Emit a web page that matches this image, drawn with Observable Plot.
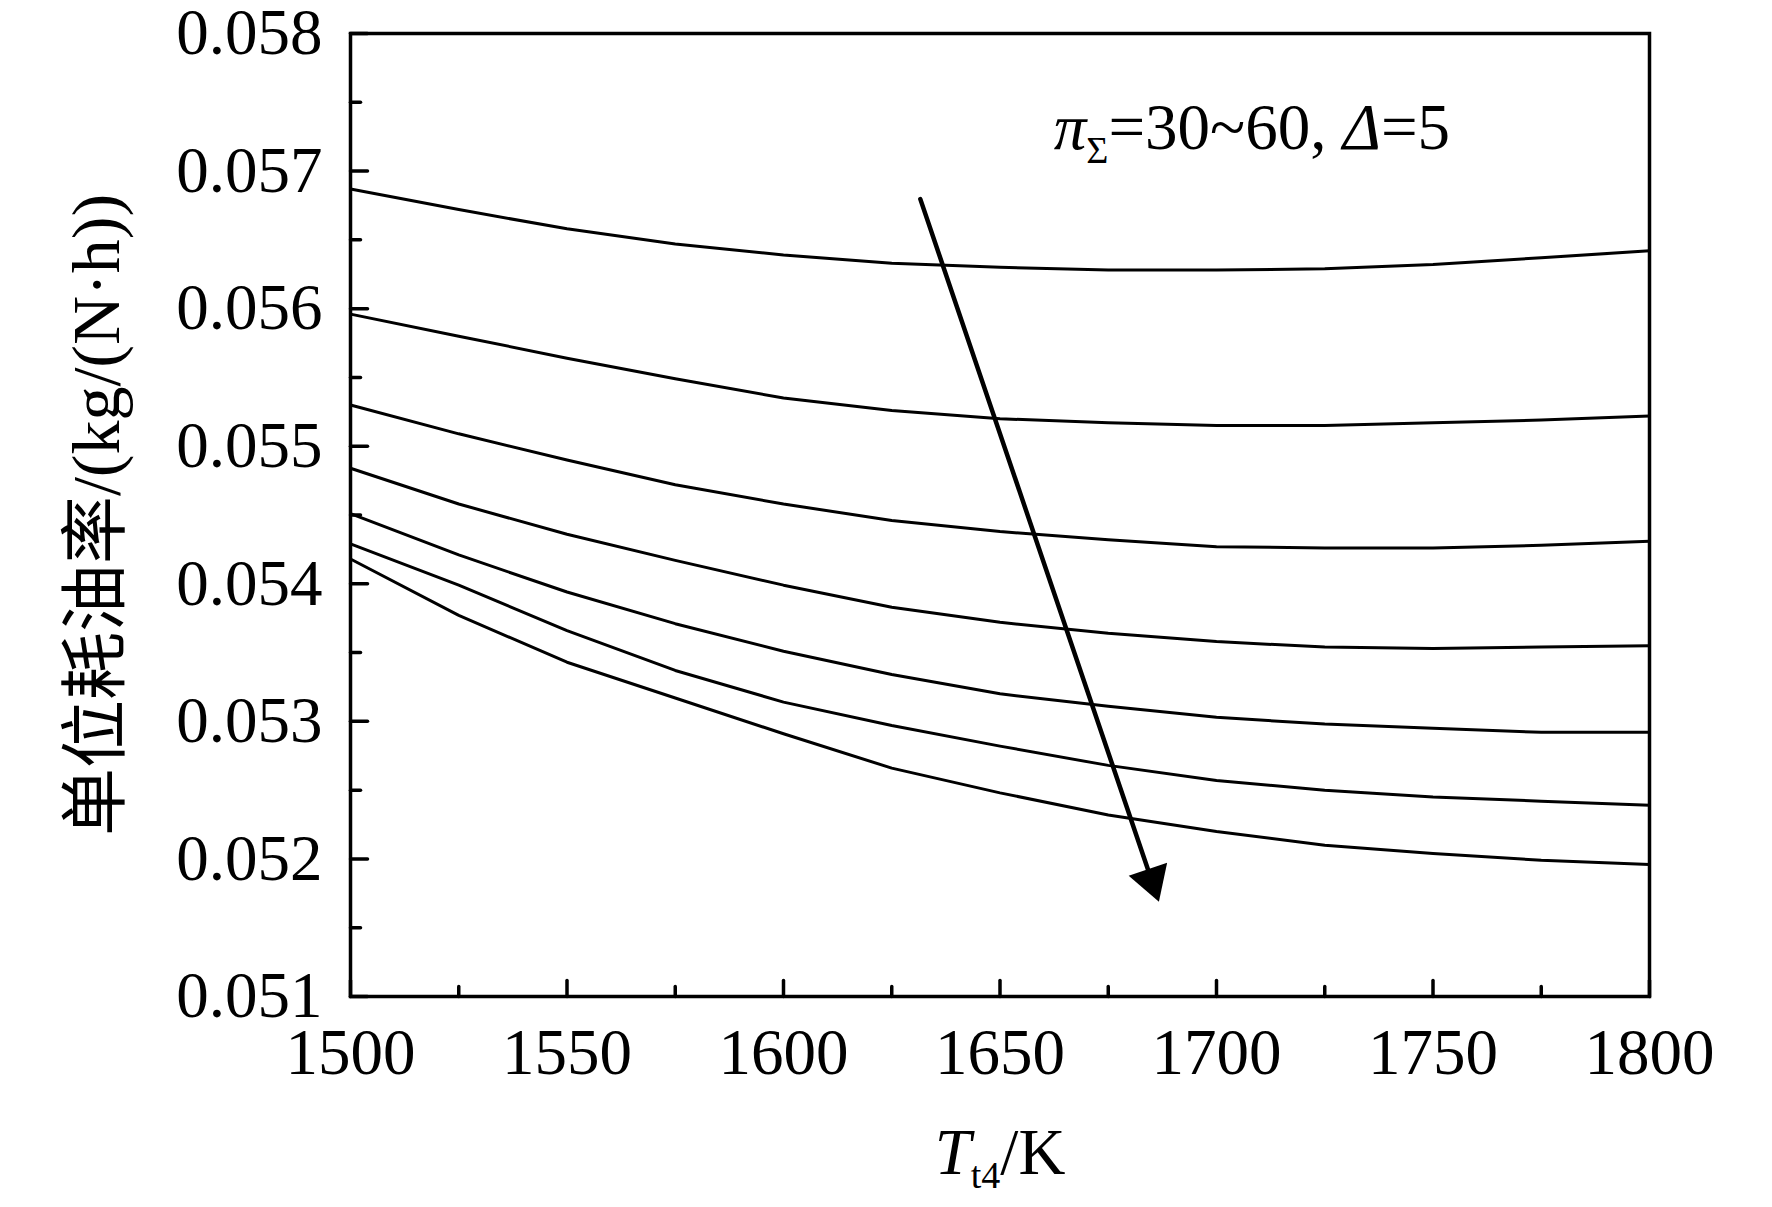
<!DOCTYPE html>
<html>
<head>
<meta charset="utf-8">
<script src="https://cdn.jsdelivr.net/npm/d3@7"></script>
<script src="https://cdn.jsdelivr.net/npm/@observablehq/plot@0.6"></script>
<style>
  html, body { margin: 0; padding: 0; background: #fff; }
  #chart { width: 1772px; height: 1207px; }
</style>
</head>
<body>
<div id="chart"></div>
<script>
// ---------- data ----------
const Tt4 = [1500, 1525, 1550, 1575, 1600, 1625, 1650, 1675, 1700, 1725, 1750, 1775, 1800];
const piSigma = [30, 35, 40, 45, 50, 55, 60];
const sfc30 = [0.05687, 0.05672, 0.05658, 0.05647, 0.05639, 0.05633, 0.05630, 0.05628, 0.05628, 0.05629, 0.05632, 0.05637, 0.05642];
const sfc35 = [0.05596, 0.05580, 0.05564, 0.05549, 0.05535, 0.05526, 0.05520, 0.05517, 0.05515, 0.05515, 0.05517, 0.05519, 0.05522];
const sfc40 = [0.05530, 0.05509, 0.05490, 0.05472, 0.05458, 0.05446, 0.05438, 0.05432, 0.05427, 0.05426, 0.05426, 0.05428, 0.05431];
const sfc45 = [0.05484, 0.05458, 0.05436, 0.05417, 0.05399, 0.05383, 0.05372, 0.05364, 0.05358, 0.05354, 0.05353, 0.05354, 0.05355];
const sfc50 = [0.05451, 0.05421, 0.05394, 0.05371, 0.05351, 0.05334, 0.05320, 0.05311, 0.05303, 0.05298, 0.05295, 0.05292, 0.05292];
const sfc55 = [0.05429, 0.05399, 0.05366, 0.05337, 0.05314, 0.05297, 0.05282, 0.05268, 0.05257, 0.05250, 0.05245, 0.05242, 0.05239];
const sfc60 = [0.05418, 0.05377, 0.05343, 0.05317, 0.05291, 0.05266, 0.05248, 0.05232, 0.05220, 0.05210, 0.05204, 0.05199, 0.05196];

const xTicks = [1500, 1550, 1600, 1650, 1700, 1750, 1800];
const xMinorTicks = [1525, 1575, 1625, 1675, 1725, 1775];
const yTicks = [0.051, 0.052, 0.053, 0.054, 0.055, 0.056, 0.057, 0.058];
const yMinorTicks = [0.0515, 0.0525, 0.0535, 0.0545, 0.0555, 0.0565, 0.0575];

const xLabel = "Tt4/K";
const yLabel = "单位耗油率/(kg/(N·h))";
const annotationText = "πΣ=30~60, Δ=5";
const annotationPos = [{T: 1662.4, sfc: 0.057157}];
const arrowData = [{T1: 1631.6, v1: 0.056796, T2: 1686.7, v2: 0.051689}];

// ---------- layout ----------
const W = 1772, H = 1207;
const mL = 350, mR = 123, mT = 33, mB = 211;
const xDomain = [1500, 1800], yDomain = [0.051, 0.058];

const series = [sfc30, sfc35, sfc40, sfc45, sfc50, sfc55, sfc60];
const rows = series.flatMap((s, i) => s.map((v, j) => ({pi: piSigma[i], T: Tt4[j], sfc: v})));

// arrow head angle in screen space
const kx = (W - mL - mR) / (xDomain[1] - xDomain[0]);
const ky = (H - mT - mB) / (yDomain[1] - yDomain[0]);
const a = arrowData[0];
const headAngle = -Math.atan2((a.T2 - a.T1) * kx, (a.v1 - a.v2) * ky) * 180 / Math.PI;

const headSymbol = {draw(ctx) { ctx.moveTo(0, 0); ctx.lineTo(-20.3, -34.2); ctx.lineTo(20.3, -34.2); ctx.closePath(); }};
const tickRight = {draw(ctx, l) { ctx.moveTo(0, 0); ctx.lineTo(l, 0); }};
const tickUp = {draw(ctx, l) { ctx.moveTo(0, 0); ctx.lineTo(0, -l); }};

const plot = Plot.plot({
  width: W, height: H,
  marginLeft: mL, marginRight: mR, marginTop: mT, marginBottom: mB,
  style: {fontFamily: "'Liberation Serif', 'Times New Roman', 'Noto Sans CJK SC', serif", background: "#fff", color: "#000", overflow: "visible"},
  x: {domain: xDomain},
  y: {domain: yDomain},
  marks: [
    Plot.line(rows, {x: "T", y: "sfc", z: "pi", stroke: "#000", strokeWidth: 3}),
    Plot.arrow(arrowData, {x1: "T1", y1: "v1", x2: "T2", y2: "v2", stroke: "#000", strokeWidth: 4.5, headLength: 0, insetEnd: 24}),
    Plot.dot(arrowData, {x: "T2", y: "v2", symbol: headSymbol, rotate: headAngle, fill: "#000", stroke: "none", r: 1}),
    Plot.frame({stroke: "#000", strokeWidth: 3.5}),
    Plot.vector(yTicks, {y: d => d, frameAnchor: "left", length: 17, anchor: "start", shape: tickRight, stroke: "#000", strokeWidth: 3.5}),
    Plot.vector(yMinorTicks, {y: d => d, frameAnchor: "left", length: 10, anchor: "start", shape: tickRight, stroke: "#000", strokeWidth: 3.5}),
    Plot.vector(xTicks, {x: d => d, frameAnchor: "bottom", length: 16, anchor: "start", shape: tickUp, stroke: "#000", strokeWidth: 3.5}),
    Plot.vector(xMinorTicks, {x: d => d, frameAnchor: "bottom", length: 10, anchor: "start", shape: tickUp, stroke: "#000", strokeWidth: 3.5}),
    Plot.axisX({ticks: xTicks, tickFormat: d3.format("d"), tickSize: 0, tickPadding: 31, fontSize: 65, label: null}),
    Plot.axisY({ticks: yTicks, tickFormat: d3.format(".3f"), tickSize: 0, tickPadding: 28, fontSize: 65, label: null}),
    Plot.text([xLabel], {text: d => d, frameAnchor: "bottom", dy: 177, lineAnchor: "bottom", textAnchor: "middle", fontSize: 65}),
    Plot.text([yLabel], {text: d => d, frameAnchor: "left", dx: -232, rotate: -90, lineAnchor: "bottom", textAnchor: "middle", fontSize: 68}),
    Plot.text(annotationPos, {x: "T", y: "sfc", text: () => annotationText, textAnchor: "start", lineAnchor: "bottom", fontSize: 65})
  ]
});

document.getElementById("chart").appendChild(plot);

// rich text (italic letters and subscripts)
function rich(content, segments) {
  const t = Array.from(plot.querySelectorAll("text")).find(e => e.textContent === content);
  if (!t) return;
  while (t.firstChild) t.removeChild(t.firstChild);
  const ns = "http://www.w3.org/2000/svg";
  let shift = 0;
  for (const s of segments) {
    const sp = document.createElementNS(ns, "tspan");
    sp.textContent = s.t;
    if (s.italic) sp.setAttribute("font-style", "italic");
    const target = s.sub ? 14 : 0;
    if (target !== shift) { sp.setAttribute("dy", target - shift); shift = target; }
    if (s.sub) sp.setAttribute("font-size", 38);
    t.appendChild(sp);
  }
}
rich(xLabel, [{t: "T", italic: true}, {t: "t4", sub: true}, {t: "/K"}]);
rich(annotationText, [{t: "π", italic: true}, {t: "Σ", sub: true}, {t: "=30~60, "}, {t: "Δ", italic: true}, {t: "=5"}]);
</script>
</body>
</html>
